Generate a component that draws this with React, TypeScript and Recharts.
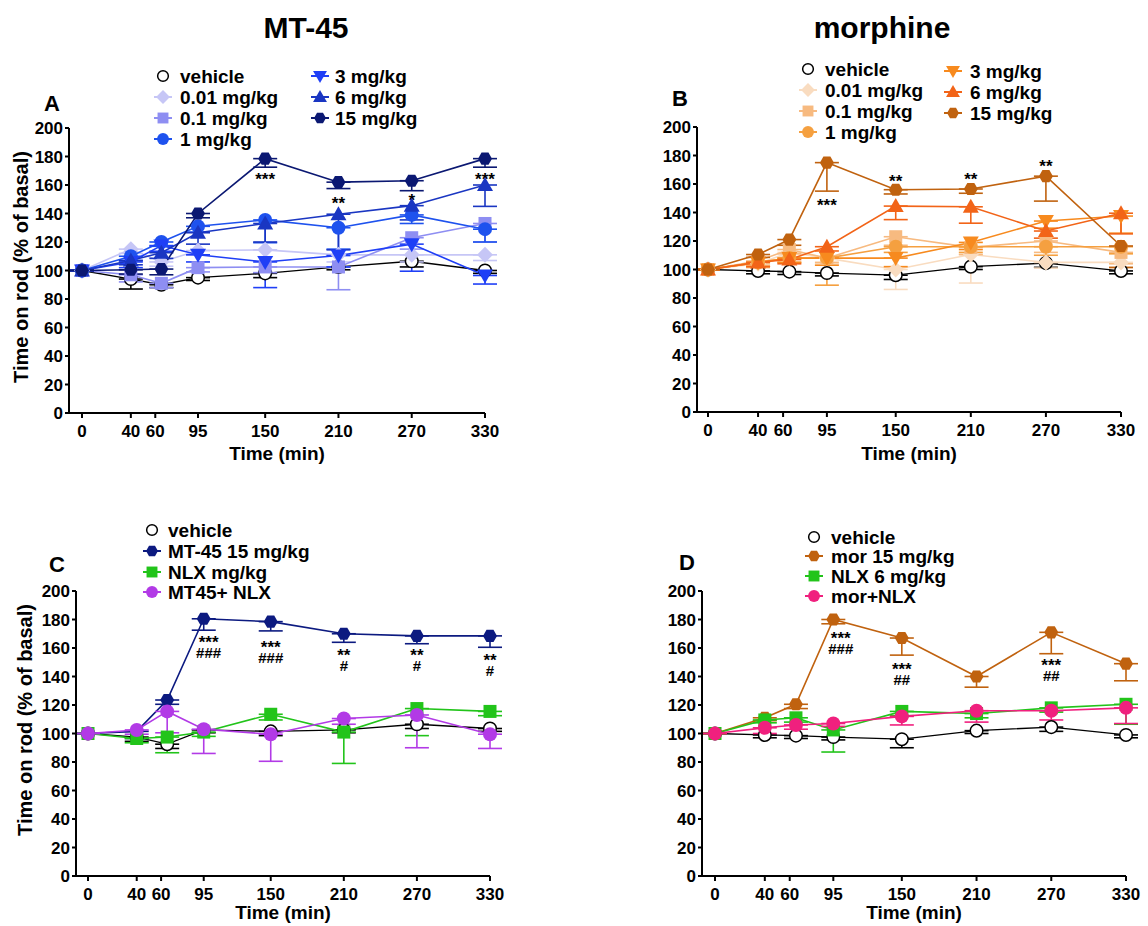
import React from "react";
import { LineChart, Line, XAxis, YAxis, ErrorBar, ReferenceDot } from "recharts";

const FONT = "'Liberation Sans', Arial, Helvetica, sans-serif";

// time points (the "60" group was sampled slightly later, plotted at 65)
const TIMES = [0, 40, 65, 95, 150, 210, 270, 330];
const X_TICKS = [0, 40, 60, 95, 150, 210, 270, 330];
const Y_TICKS = [0, 20, 40, 60, 80, 100, 120, 140, 160, 180, 200];

// Panel A: MT-45 dose response
const A_VEH = [100, 94, 90, 95, 98, 102.5, 106.5, 100];
const A_001 = [100, 115, 106, 114, 114.5, 111, 111, 111];
const A_01 = [100, 97, 91, 102, 102.5, 102.5, 123, 133];
const A_1 = [100, 110, 120, 131, 135.5, 130, 139, 129];
const A_3 = [100, 106, 117.5, 111, 106, 110.5, 118.5, 96.5];
const A_6 = [100, 107, 112.5, 126.5, 133, 139.5, 145.5, 160];
const A_15 = [100, 100.5, 101, 140, 178.5, 162, 163, 178.5];
const A_VEH_E = [0, 7, 2, 2, 3, 2, 4, 2];
const A_001_E = [0, 3, 3, 3, 8, 5, 5, 4];
const A_01_E = [0, 5, 3, 3, 4, 16, 8, 13];
const A_1_E = [0, 3, 3, 4, 16, 15, 6, 9];
const A_3_E = [0, 4, 4, 5, 18, 8, 19, 6];
const A_6_E = [0, 3, 4, 8, 13, 25, 10, 15];
const A_15_E = [0, 3, 4, 3, 6, 4.5, 7, 6];

// Panel B: morphine dose response
const B_VEH = [100, 99, 98.5, 97.5, 96, 102, 104.5, 99];
const B_001 = [100, 104, 112, 108, 100, 110.5, 105, 105];
const B_01 = [100, 106, 114, 108, 123, 115.5, 120, 112];
const B_1 = [100, 105, 108, 108, 116, 116, 116, 116];
const B_3 = [100, 105, 108, 108, 108, 119, 134, 137.5];
const B_6 = [100, 105, 107, 116, 144.5, 144, 127, 139.5];
const B_15 = [100, 110.5, 121, 175, 156, 156.5, 165.5, 116.5];
const B_VEH_E = [0, 2, 2, 2, 3, 2, 3, 2];
const B_001_E = [0, 3, 3, 4, 14, 20, 4, 4];
const B_01_E = [0, 3, 3, 3, 6, 5, 8, 8];
const B_1_E = [0, 3, 3, 19, 4, 4, 6, 5];
const B_3_E = [0, 3, 3, 5, 6, 5, 5, 12];
const B_6_E = [0, 3, 3, 3, 9.5, 11.5, 5, 14.5];
const B_15_E = [0, 2, 4, 20, 3, 3, 17.5, 15];

// Panel C: MT-45 + naloxone
const C_VEH = [100, 97.5, 92.5, 102.5, 101.5, 102.5, 106.5, 103.5];
const C_MT = [100, 101.5, 123.5, 180.5, 178.5, 170, 168.5, 168.5];
const C_NLX = [100, 96.5, 97.5, 101, 113.5, 101, 117.5, 115.5];
const C_MIX = [100, 102.5, 115.5, 103, 99.5, 110.5, 113, 99.5];
const C_VEH_E = [0, 3, 3, 2, 3, 2, 3, 2];
const C_MT_E = [0, 5, 3, 8, 6.5, 6, 5.5, 8];
const C_NLX_E = [0, 3, 11, 3, 4, 22, 19, 3];
const C_MIX_E = [0, 3, 15, 17, 19, 4, 23, 10];

// Panel D: morphine + naloxone
const D_VEH = [100, 99, 98.5, 97.5, 96, 102, 104.5, 99];
const D_MOR = [100, 111, 120.5, 180, 167, 140, 171, 149];
const D_NLX = [100, 109.5, 111, 102.5, 115.5, 114, 118, 120.5];
const D_MIX = [100, 104, 106, 107, 112, 116, 116, 118];
const D_VEH_E = [0, 2, 2, 2, 6, 2, 3, 2];
const D_MOR_E = [0, 2, 3, 3, 12, 7.5, 15, 12];
const D_NLX_E = [0, 2, 3, 15.5, 3, 3, 3, 14];
const D_MIX_E = [0, 4, 3, 2, 6, 8, 6.5, 11];

// significance marks (y = centre of the asterisks)
const A_NOTES = [
  { t: 150, y: 166, stars: "***" },
  { t: 210, y: 149.5, stars: "**" },
  { t: 270, y: 151.5, stars: "*" },
  { t: 330, y: 166, stars: "***" },
];
const B_NOTES = [
  { t: 95, y: 147.5, stars: "***" },
  { t: 150, y: 164, stars: "**" },
  { t: 210, y: 165.5, stars: "**" },
  { t: 270, y: 175, stars: "**" },
];
const C_NOTES = [
  { t: 99, y: 166, stars: "***", hash: "###" },
  { t: 150, y: 162.5, stars: "***", hash: "###" },
  { t: 210, y: 157.5, stars: "**", hash: "#" },
  { t: 270, y: 157.5, stars: "**", hash: "#" },
  { t: 330, y: 153.5, stars: "**", hash: "#" },
];
const D_NOTES = [
  { t: 101, y: 169, stars: "***", hash: "###" },
  { t: 150, y: 147.5, stars: "***", hash: "##" },
  { t: 270, y: 150.5, stars: "***", hash: "##" },
];

type Shape = "open" | "diamond" | "square" | "circle" | "down" | "up" | "hex";
interface Series { name: string; color: string; shape: Shape; values: number[]; err: number[] }
interface Note { t: number; y: number; stars: string; hash?: string }

const A_SERIES: Series[] = [
  { name: "vehicle", color: "#000000", shape: "open", values: A_VEH, err: A_VEH_E },
  { name: "0.01 mg/kg", color: "#c6c6f6", shape: "diamond", values: A_001, err: A_001_E },
  { name: "0.1 mg/kg", color: "#8e8ef2", shape: "square", values: A_01, err: A_01_E },
  { name: "1 mg/kg", color: "#1e52ee", shape: "circle", values: A_1, err: A_1_E },
  { name: "3 mg/kg", color: "#1f3ff6", shape: "down", values: A_3, err: A_3_E },
  { name: "6 mg/kg", color: "#1a36c2", shape: "up", values: A_6, err: A_6_E },
  { name: "15 mg/kg", color: "#0b1872", shape: "hex", values: A_15, err: A_15_E },
];
const B_SERIES: Series[] = [
  { name: "vehicle", color: "#000000", shape: "open", values: B_VEH, err: B_VEH_E },
  { name: "0.01 mg/kg", color: "#f9dcc0", shape: "diamond", values: B_001, err: B_001_E },
  { name: "0.1 mg/kg", color: "#f7ba80", shape: "square", values: B_01, err: B_01_E },
  { name: "1 mg/kg", color: "#f5a040", shape: "circle", values: B_1, err: B_1_E },
  { name: "3 mg/kg", color: "#f78a1e", shape: "down", values: B_3, err: B_3_E },
  { name: "6 mg/kg", color: "#f26418", shape: "up", values: B_6, err: B_6_E },
  { name: "15 mg/kg", color: "#c0620f", shape: "hex", values: B_15, err: B_15_E },
];
const C_SERIES: Series[] = [
  { name: "vehicle", color: "#000000", shape: "open", values: C_VEH, err: C_VEH_E },
  { name: "MT-45 15 mg/kg", color: "#0c1a80", shape: "hex", values: C_MT, err: C_MT_E },
  { name: "NLX mg/kg", color: "#22c41a", shape: "square", values: C_NLX, err: C_NLX_E },
  { name: "MT45+ NLX", color: "#b23ae6", shape: "circle", values: C_MIX, err: C_MIX_E },
];
const D_SERIES: Series[] = [
  { name: "vehicle", color: "#000000", shape: "open", values: D_VEH, err: D_VEH_E },
  { name: "mor 15 mg/kg", color: "#c0620f", shape: "hex", values: D_MOR, err: D_MOR_E },
  { name: "NLX 6 mg/kg", color: "#22c41a", shape: "square", values: D_NLX, err: D_NLX_E },
  { name: "mor+NLX", color: "#f0207e", shape: "circle", values: D_MIX, err: D_MIX_E },
];

const buildRows = (series: Series[]) =>
  TIMES.map((t, i) => {
    const row: Record<string, any> = { t };
    series.forEach((s, k) => {
      row[`s${k}`] = s.values[i];
      row[`e${k}`] = [s.err[i], 0];
    });
    return row;
  });

const Marker = ({ shape, cx, cy, color, k = 1 }: { shape: Shape; cx: number; cy: number; color: string; k?: number }) => {
  const r = 7 * k;
  switch (shape) {
    case "open":
      return <circle cx={cx} cy={cy} r={6.3 * k} fill="#fff" stroke="#000" strokeWidth={1.5} />;
    case "circle":
      return <circle cx={cx} cy={cy} r={r} fill={color} />;
    case "square":
      return <rect x={cx - r + 0.5} y={cy - r + 0.5} width={2 * r - 1} height={2 * r - 1} fill={color} />;
    case "diamond":
      return <polygon points={`${cx},${cy - r - 1} ${cx + r + 1},${cy} ${cx},${cy + r + 1} ${cx - r - 1},${cy}`} fill={color} />;
    case "up":
      return <polygon points={`${cx},${cy - r - 1} ${cx + r + 1},${cy + r - 1} ${cx - r - 1},${cy + r - 1}`} fill={color} />;
    case "down":
      return <polygon points={`${cx - r - 1},${cy - r + 1} ${cx + r + 1},${cy - r + 1} ${cx},${cy + r + 1}`} fill={color} />;
    default: {
      const pts = [0, 60, 120, 180, 240, 300]
        .map((a) => `${cx + r * Math.cos((a * Math.PI) / 180)},${cy + r * Math.sin((a * Math.PI) / 180)}`)
        .join(" ");
      return <polygon points={pts} fill={color} />;
    }
  }
};

// stars (and hashes under them) drawn as one text block
const NoteLabel = (props: any) => {
  const { viewBox, stars, hash } = props;
  if (!viewBox) return null;
  const cx = viewBox.x + (viewBox.width || 0) / 2;
  const cy = viewBox.y + (viewBox.height || 0) / 2;
  return (
    <text textAnchor="middle" fontFamily={FONT} fontWeight="bold" fill="#000">
      <tspan x={cx} y={cy + 9} fontSize={17}>{stars}</tspan>
      {hash && (
        <tspan x={cx} y={cy + 19} fontSize={15}>{hash}</tspan>
      )}
    </text>
  );
};

interface PanelProps {
  left: number;
  top: number;
  plotTop: number;
  axisX: number;
  zeroX: number;
  endX: number;
  width: number;
  series: Series[];
  notes: Note[];
}

const Panel = ({ left, top, plotTop, axisX, zeroX, endX, width, series, notes }: PanelProps) => {
  const rows = buildRows(series);
  const yAxisW = axisX - left;
  const marginTop = plotTop - top;
  const height = marginTop + 285 + 47;
  const axisStyle = { stroke: "#000", strokeWidth: 2 };
  const tickStyle = { fill: "#000", fontSize: 17, fontWeight: "bold", fontFamily: FONT };
  return (
    <div style={{ position: "absolute", left, top }}>
      <LineChart
        width={width}
        height={height}
        data={rows}
        margin={{ top: marginTop, right: left + width - endX, left: 0, bottom: 0 }}
      >
        <XAxis
          type="number"
          dataKey="t"
          domain={[0, 330]}
          ticks={X_TICKS}
          interval={0}
          padding={{ left: zeroX - axisX, right: 0 }}
          height={47}
          axisLine={axisStyle}
          tickLine={axisStyle}
          tickSize={5}
          tickMargin={7}
          tick={tickStyle}
        />
        <YAxis
          type="number"
          domain={[0, 200]}
          ticks={Y_TICKS}
          interval={0}
          width={yAxisW}
          axisLine={axisStyle}
          tickLine={axisStyle}
          tickSize={4}
          tickMargin={2}
          tick={tickStyle}
        />
        {series.map((s, k) => (
          <Line
            key={s.name}
            type="linear"
            dataKey={`s${k}`}
            stroke={s.color}
            strokeWidth={s.shape === "open" ? 1.3 : 1.6}
            isAnimationActive={false}
            activeDot={false}
            dot={(p: any) => (
              <Marker key={`${s.name}-${p.index}`} shape={s.shape} cx={p.cx} cy={p.cy} color={s.color} />
            )}
          >
            <ErrorBar dataKey={`e${k}`} direction="y" width={12} stroke={s.color} strokeWidth={1.6} />
          </Line>
        ))}
        {notes.map((n, i) => (
          <ReferenceDot
            key={i}
            x={n.t}
            y={n.y}
            r={0}
            fill="none"
            stroke="none"
            label={<NoteLabel stars={n.stars} hash={n.hash} />}
          />
        ))}
      </LineChart>
    </div>
  );
};

interface LegendCol { x: number; textX: number; rows: number[]; items: Series[] }

const LegendBlock = ({ cols }: { cols: LegendCol[] }) => (
  <g>
    {cols.map((c, ci) =>
      c.items.map((s, i) => (
        <g key={`${ci}-${i}`}>
          {s.shape !== "open" && (
            <line x1={c.x - 9} x2={c.x + 9} y1={c.rows[i]} y2={c.rows[i]} stroke={s.color} strokeWidth={2} />
          )}
          <Marker shape={s.shape} cx={c.x} cy={c.rows[i]} color={s.color} k={0.85} />
          <text x={c.textX} y={c.rows[i] + 7} fontSize={19} fontWeight="bold" fontFamily={FONT} fill="#000">
            {s.name}
          </text>
        </g>
      ))
    )}
  </g>
);

const bold = { fontWeight: "bold" as const, fontFamily: FONT, fill: "#000" };

export default function App() {
  return (
    <div style={{ position: "absolute", left: 0, top: 0, width: 1148, height: 926, background: "#fff" }}>
      <Panel left={0} top={110} plotTop={128} axisX={69} zeroX={82} endX={485} width={510} series={A_SERIES} notes={A_NOTES} />
      <Panel left={628} top={110} plotTop={127} axisX={697} zeroX={708} endX={1121} width={518} series={B_SERIES} notes={B_NOTES} />
      <Panel left={7} top={573} plotTop={591} axisX={76} zeroX={88} endX={490} width={508} series={C_SERIES} notes={C_NOTES} />
      <Panel left={633} top={573} plotTop={591} axisX={702} zeroX={715} endX={1126} width={515} series={D_SERIES} notes={D_NOTES} />

      <svg width={1148} height={926} style={{ position: "absolute", left: 0, top: 0, pointerEvents: "none" }}>
        <text x={306} y={38} textAnchor="middle" fontSize={30} {...bold}>MT-45</text>
        <text x={882} y={38} textAnchor="middle" fontSize={30} {...bold}>morphine</text>

        <text x={52} y={111} textAnchor="middle" fontSize={22} {...bold}>A</text>
        <text x={680} y={106} textAnchor="middle" fontSize={22} {...bold}>B</text>
        <text x={57} y={572} textAnchor="middle" fontSize={22} {...bold}>C</text>
        <text x={687} y={570} textAnchor="middle" fontSize={22} {...bold}>D</text>

        <text transform="translate(21,267) rotate(-90)" y={7} textAnchor="middle" fontSize={20} {...bold}>
          Time on rod (% of basal)
        </text>
        <text transform="translate(25,720) rotate(-90)" y={7} textAnchor="middle" fontSize={20} {...bold}>
          Time on rod (% of basal)
        </text>

        <text x={277} y={460} textAnchor="middle" fontSize={19} {...bold}>Time (min)</text>
        <text x={909} y={460} textAnchor="middle" fontSize={19} {...bold}>Time (min)</text>
        <text x={283} y={919} textAnchor="middle" fontSize={19} {...bold}>Time (min)</text>
        <text x={914} y={919} textAnchor="middle" fontSize={19} {...bold}>Time (min)</text>

        <LegendBlock
          cols={[
            { x: 163, textX: 180, rows: [76, 97, 118, 139], items: A_SERIES.slice(0, 4) },
            { x: 320, textX: 335, rows: [76, 97, 118], items: A_SERIES.slice(4) },
          ]}
        />
        <LegendBlock
          cols={[
            { x: 808, textX: 825, rows: [69, 90, 111, 132], items: B_SERIES.slice(0, 4) },
            { x: 953, textX: 970, rows: [71, 92, 113], items: B_SERIES.slice(4) },
          ]}
        />
        <LegendBlock cols={[{ x: 152, textX: 168, rows: [530, 551, 572, 592], items: C_SERIES }]} />
        <LegendBlock cols={[{ x: 814, textX: 831, rows: [537, 556, 576, 596], items: D_SERIES }]} />
      </svg>
    </div>
  );
}
